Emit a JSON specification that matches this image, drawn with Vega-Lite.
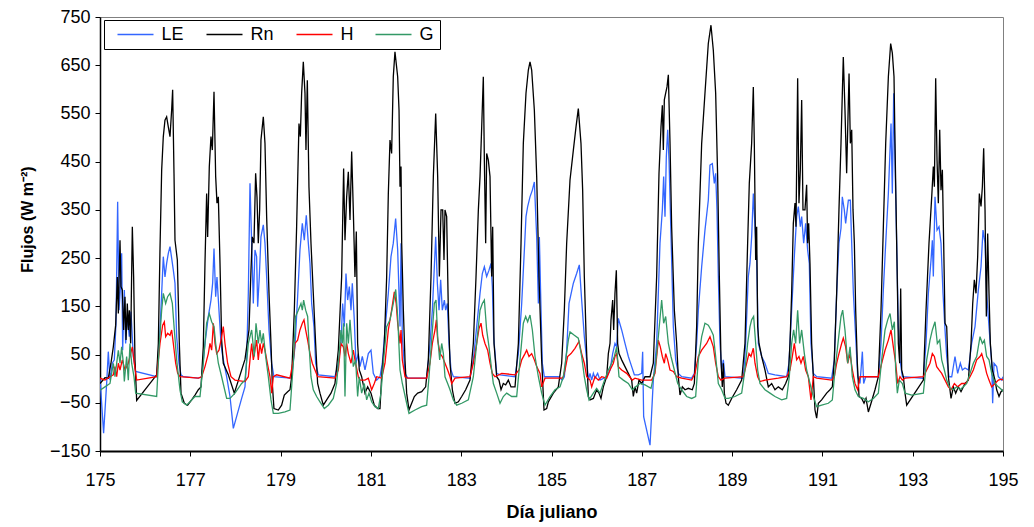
{
"$schema": "https://vega.github.io/schema/vega-lite/v6.json",
"width": 903, "height": 434,
"autosize": {"type": "none"},
"padding": {"left": 100, "top": 17, "right": 31, "bottom": 76},
"config": {"font": "Liberation Sans", "view": {"stroke": "#808080", "strokeWidth": 1}},
"datasets": {
"Rn": [[175.0,-10],[175.11,2],[175.184,1],[175.243,32],[175.295,66],[175.347,111],[175.384,211],[175.406,135],[175.443,287],[175.465,191],[175.494,184],[175.524,101],[175.553,170],[175.576,80],[175.605,156],[175.627,101],[175.649,142],[175.679,73],[175.716,315],[175.745,211],[175.775,39],[175.812,-45],[176.255,8],[176.292,73],[176.329,270],[176.366,433],[176.402,502],[176.439,536],[176.476,543],[176.513,522],[176.55,502],[176.587,557],[176.609,599],[176.639,426],[176.661,287],[176.713,246],[176.757,73],[176.794,-30],[176.868,-51],[176.941,-55],[177.03,-44],[177.104,-34],[177.178,-23],[177.237,-17],[177.288,66],[177.325,239],[177.362,384],[177.384,294],[177.421,440],[177.458,502],[177.488,474],[177.525,595],[177.562,419],[177.591,364],[177.621,377],[177.658,239],[177.694,80],[177.731,32],[177.842,8],[177.975,-30],[178.211,40],[178.3,101],[178.344,225],[178.373,294],[178.41,281],[178.447,426],[178.477,377],[178.506,281],[178.536,350],[178.565,495],[178.617,543],[178.654,488],[178.691,336],[178.743,177],[178.787,73],[178.816,-10],[178.853,-62],[178.949,-65],[179.023,-55],[179.082,-34],[179.156,-27],[179.208,-23],[179.245,4],[179.304,142],[179.355,315],[179.407,529],[179.437,502],[179.466,592],[179.503,657],[179.54,592],[179.562,474],[179.592,619],[179.628,398],[179.673,281],[179.724,177],[179.776,73],[179.82,-10],[179.872,-30],[179.946,-55],[180.02,-44],[180.116,-30],[180.204,-10],[180.278,59],[180.352,211],[180.396,436],[180.426,287],[180.463,377],[180.5,429],[180.537,329],[180.574,471],[180.61,350],[180.647,211],[180.677,305],[180.706,73],[180.743,18],[180.795,4],[180.869,-30],[180.928,-17],[181.002,-30],[181.075,-55],[181.149,-62],[181.201,-62],[181.238,4],[181.297,73],[181.349,211],[181.386,384],[181.423,495],[181.459,467],[181.496,626],[181.533,678],[181.593,626],[181.623,557],[181.645,398],[181.667,440],[181.682,281],[181.719,142],[181.755,39],[181.792,-30],[181.844,-65],[181.903,-51],[181.962,-37],[182.036,-30],[182.125,-27],[182.213,-17],[182.272,39],[182.331,211],[182.383,419],[182.435,550],[182.479,419],[182.516,212],[182.553,350],[182.59,350],[182.619,246],[182.641,350],[182.678,336],[182.715,142],[182.752,32],[182.804,-23],[182.863,-51],[182.937,-48],[183.011,-37],[183.099,-23],[183.195,-3],[183.269,73],[183.328,211],[183.38,350],[183.417,419],[183.454,522],[183.49,626],[183.513,453],[183.542,281],[183.564,467],[183.601,453],[183.638,419],[183.675,212],[183.697,315],[183.727,73],[183.786,4],[183.837,-3],[183.882,-23],[183.933,-10],[183.985,-13],[184.044,-3],[184.103,-17],[184.192,-17],[184.266,73],[184.325,281],[184.376,488],[184.435,592],[184.487,640],[184.524,657],[184.561,640],[184.62,557],[184.672,419],[184.723,212],[184.782,39],[184.834,-65],[184.893,-62],[184.93,-48],[185.041,-30],[185.151,-17],[185.225,32],[185.284,142],[185.336,281],[185.41,412],[185.484,474],[185.543,522],[185.594,560],[185.653,488],[185.69,391],[185.727,212],[185.771,73],[185.816,-37],[185.853,-44],[185.927,-41],[186.0,-23],[186.052,-30],[186.096,-41],[186.148,-17],[186.222,4],[186.259,52],[186.296,73],[186.318,122],[186.355,163],[186.377,101],[186.406,177],[186.436,225],[186.465,73],[186.495,52],[186.554,39],[186.628,25],[186.702,11],[186.776,-3],[186.812,-37],[186.849,-17],[186.886,-30],[186.938,-3],[186.997,-10],[187.071,4],[187.182,4],[187.255,32],[187.329,212],[187.381,426],[187.425,522],[187.455,567],[187.477,474],[187.499,578],[187.529,592],[187.558,605],[187.588,630],[187.625,488],[187.661,315],[187.721,142],[187.772,73],[187.809,4],[187.846,-34],[187.898,-17],[187.957,-23],[188.031,-20],[188.119,-23],[188.164,-10],[188.215,108],[188.252,281],[188.326,488],[188.399,592],[188.473,695],[188.532,733],[188.584,681],[188.636,592],[188.68,419],[188.717,212],[188.754,39],[188.783,-17],[188.806,32],[188.828,-30],[188.865,-51],[188.916,-55],[188.99,-41],[189.101,-23],[189.212,-3],[189.285,73],[189.344,281],[189.381,405],[189.433,488],[189.47,605],[189.492,488],[189.522,246],[189.544,315],[189.566,108],[189.596,73],[189.655,46],[189.728,18],[189.802,-17],[189.876,-10],[189.95,-23],[190.024,-17],[190.112,-23],[190.186,-10],[190.245,4],[190.282,73],[190.319,177],[190.356,322],[190.393,364],[190.415,315],[190.452,623],[190.481,364],[190.511,433],[190.541,578],[190.57,350],[190.614,350],[190.651,402],[190.673,281],[190.696,322],[190.725,239],[190.762,73],[190.799,4],[190.836,-65],[190.873,-82],[190.91,-51],[190.983,-44],[191.094,-30],[191.168,-23],[191.22,-17],[191.264,39],[191.316,177],[191.367,350],[191.412,488],[191.463,667],[191.5,557],[191.537,426],[191.59,633],[191.619,488],[191.649,516],[191.678,350],[191.708,281],[191.737,142],[191.774,32],[191.811,-37],[191.87,-41],[191.922,-51],[191.966,-41],[192.018,-69],[192.077,-51],[192.165,-23],[192.239,4],[192.298,142],[192.35,315],[192.402,488],[192.461,626],[192.512,695],[192.549,675],[192.586,626],[192.608,488],[192.645,281],[192.682,73],[192.712,32],[192.734,187],[192.756,18],[192.793,4],[192.83,-30],[192.867,-55],[193.236,-3],[193.295,142],[193.361,281],[193.421,377],[193.457,440],[193.48,398],[193.509,623],[193.539,453],[193.568,364],[193.598,516],[193.627,391],[193.657,433],[193.686,281],[193.716,115],[193.753,108],[193.79,4],[193.849,-41],[193.901,-17],[193.952,-30],[194.011,-17],[194.07,-27],[194.159,-10],[194.233,-3],[194.292,73],[194.329,156],[194.365,205],[194.402,177],[194.439,253],[194.476,384],[194.513,357],[194.543,398],[194.572,478],[194.602,350],[194.631,129],[194.661,301],[194.69,177],[194.72,73],[194.764,18],[194.823,-3],[194.86,-23],[194.912,-37],[194.956,-27],[195.0,-23]],
"LE": [[175.0,1],[175.08,-113],[175.147,-10],[175.184,56],[175.221,-3],[175.273,32],[175.317,39],[175.354,115],[175.391,367],[175.421,142],[175.458,198],[175.48,260],[175.502,59],[175.539,184],[175.568,73],[175.605,129],[175.649,87],[175.686,139],[175.738,46],[175.79,15],[176.255,4],[176.329,101],[176.402,253],[176.439,211],[176.476,239],[176.513,260],[176.55,274],[176.587,250],[176.624,225],[176.661,198],[176.698,87],[176.749,32],[176.794,8],[176.845,4],[177.178,1],[177.252,4],[177.325,73],[177.399,129],[177.458,163],[177.495,198],[177.525,270],[177.562,170],[177.591,211],[177.635,142],[177.68,73],[177.717,46],[177.805,4],[177.879,-37],[177.953,-103],[178.137,-41],[178.211,-17],[178.248,40],[178.285,177],[178.322,405],[178.359,281],[178.396,156],[178.432,267],[178.469,253],[178.492,149],[178.528,211],[178.565,294],[178.617,319],[178.654,281],[178.691,211],[178.743,101],[178.802,32],[178.853,4],[179.208,1],[179.245,4],[179.318,66],[179.377,170],[179.429,267],[179.481,322],[179.525,287],[179.569,339],[179.614,281],[179.651,239],[179.688,156],[179.739,108],[179.776,32],[179.835,8],[180.204,4],[180.278,32],[180.337,73],[180.374,156],[180.411,108],[180.448,218],[180.485,163],[180.522,191],[180.559,142],[180.588,198],[180.632,122],[180.669,32],[180.721,52],[180.758,25],[180.81,46],[180.869,18],[180.943,52],[181.002,59],[181.053,11],[181.127,-3],[181.201,4],[181.253,32],[181.312,101],[181.386,177],[181.445,253],[181.496,281],[181.548,332],[181.593,267],[181.645,108],[181.667,281],[181.696,87],[181.755,11],[181.815,1],[182.235,1],[182.309,73],[182.361,142],[182.405,232],[182.435,294],[182.472,198],[182.509,142],[182.545,205],[182.582,142],[182.627,163],[182.656,142],[182.693,156],[182.73,73],[182.774,18],[182.826,4],[183.195,1],[183.269,39],[183.343,108],[183.417,177],[183.468,218],[183.513,232],[183.564,212],[183.616,225],[183.66,239],[183.69,191],[183.719,87],[183.786,11],[183.86,8],[184.192,4],[184.266,52],[184.34,156],[184.399,267],[184.435,336],[184.472,357],[184.524,377],[184.576,391],[184.62,408],[184.672,294],[184.709,156],[184.731,294],[184.768,142],[184.797,32],[184.841,4],[185.151,4],[185.24,-3],[185.284,4],[185.336,59],[185.388,156],[185.484,198],[185.557,218],[185.616,236],[185.668,163],[185.727,87],[185.779,39],[185.816,-3],[185.853,11],[185.89,-3],[185.927,11],[185.963,1],[186.022,11],[186.074,-3],[186.222,4],[186.296,18],[186.355,52],[186.406,73],[186.443,66],[186.48,125],[186.554,101],[186.628,73],[186.702,46],[186.776,25],[186.835,8],[186.923,8],[186.997,11],[187.019,56],[187.041,-79],[187.182,-138],[187.255,-3],[187.329,73],[187.403,281],[187.455,350],[187.484,419],[187.514,336],[187.543,460],[187.573,516],[187.603,453],[187.632,350],[187.661,246],[187.698,108],[187.75,39],[187.809,11],[187.883,4],[188.104,1],[188.164,11],[188.215,73],[188.252,142],[188.326,232],[188.399,308],[188.473,370],[188.51,443],[188.562,446],[188.606,405],[188.636,426],[188.665,350],[188.695,212],[188.732,73],[188.769,18],[188.806,39],[188.843,4],[189.249,1],[189.3,73],[189.359,212],[189.396,239],[189.433,294],[189.47,384],[189.507,315],[189.544,246],[189.581,73],[189.655,46],[189.728,32],[189.802,11],[189.95,8],[190.208,4],[190.26,32],[190.319,142],[190.378,253],[190.43,336],[190.467,357],[190.511,315],[190.541,336],[190.585,281],[190.629,322],[190.673,267],[190.71,239],[190.747,73],[190.799,11],[190.873,4],[191.205,1],[191.264,39],[191.316,177],[191.367,281],[191.412,312],[191.441,377],[191.485,350],[191.515,322],[191.575,370],[191.619,370],[191.649,281],[191.686,177],[191.737,87],[191.782,4],[191.833,-10],[191.885,56],[191.914,-10],[191.959,4],[192.239,4],[192.298,73],[192.35,184],[192.402,281],[192.461,384],[192.52,529],[192.549,384],[192.579,592],[192.608,453],[192.645,281],[192.682,108],[192.719,39],[192.771,4],[193.236,1],[193.295,73],[193.347,177],[193.406,246],[193.435,287],[193.457,212],[193.494,377],[193.539,308],[193.583,315],[193.627,281],[193.671,177],[193.716,101],[193.753,46],[193.804,4],[193.864,4],[193.937,46],[193.996,11],[194.055,32],[194.1,18],[194.159,22],[194.233,18],[194.306,73],[194.38,108],[194.454,184],[194.513,232],[194.557,308],[194.602,281],[194.638,177],[194.69,108],[194.749,32],[194.771,-51],[194.801,32],[194.86,25],[194.897,4],[194.971,-3],[195.0,4]],
"H": [[175.0,1],[175.11,-3],[175.221,4],[175.295,8],[175.332,25],[175.369,4],[175.406,32],[175.443,18],[175.494,39],[175.553,18],[175.627,32],[175.679,52],[175.716,66],[175.76,32],[175.812,-3],[176.255,4],[176.329,73],[176.388,111],[176.425,118],[176.454,87],[176.498,94],[176.55,90],[176.587,101],[176.624,73],[176.676,32],[176.72,11],[176.772,4],[177.178,1],[177.252,4],[177.325,25],[177.399,52],[177.436,73],[177.473,59],[177.51,115],[177.547,73],[177.584,52],[177.635,59],[177.68,80],[177.731,108],[177.768,73],[177.827,32],[177.901,4],[177.99,-3],[178.211,-6],[178.285,4],[178.322,39],[178.359,73],[178.396,39],[178.432,59],[178.469,80],[178.506,39],[178.543,73],[178.58,52],[178.617,73],[178.654,59],[178.706,32],[178.765,4],[178.802,-30],[178.839,4],[178.912,8],[179.208,1],[179.282,39],[179.318,73],[179.377,80],[179.429,101],[179.481,115],[179.518,122],[179.555,101],[179.599,80],[179.651,52],[179.702,32],[179.761,18],[179.82,4],[180.204,1],[180.278,18],[180.337,73],[180.389,66],[180.426,46],[180.463,73],[180.5,52],[180.559,32],[180.61,59],[180.647,39],[180.721,4],[180.758,-3],[180.869,-3],[180.943,1],[181.016,-23],[181.075,-10],[181.127,4],[181.238,1],[181.312,32],[181.386,101],[181.459,142],[181.519,180],[181.56,156],[181.593,115],[181.645,73],[181.667,101],[181.696,39],[181.755,4],[181.815,1],[182.235,1],[182.309,32],[182.361,73],[182.42,101],[182.45,122],[182.479,80],[182.531,52],[182.582,46],[182.641,32],[182.7,18],[182.752,4],[182.789,-10],[182.863,1],[183.195,4],[183.269,32],[183.343,73],[183.395,104],[183.439,115],[183.476,90],[183.527,73],[183.586,59],[183.638,32],[183.69,11],[183.749,4],[183.897,11],[184.192,8],[184.281,18],[184.34,39],[184.413,52],[184.45,59],[184.502,46],[184.561,52],[184.62,39],[184.672,25],[184.746,11],[184.782,-17],[184.856,1],[185.225,1],[185.262,4],[185.299,18],[185.358,46],[185.432,52],[185.52,63],[185.609,77],[185.668,52],[185.727,32],[185.779,4],[185.853,-3],[185.89,-17],[185.963,4],[186.037,-3],[186.111,4],[186.222,1],[186.296,18],[186.37,32],[186.406,46],[186.443,52],[186.48,25],[186.554,18],[186.665,11],[186.79,-3],[186.849,1],[186.997,-3],[187.218,-3],[187.292,11],[187.366,80],[187.41,66],[187.455,46],[187.499,32],[187.529,52],[187.573,39],[187.625,18],[187.698,15],[187.772,4],[187.883,1],[188.104,-3],[188.178,11],[188.252,46],[188.326,59],[188.436,73],[188.51,87],[188.584,66],[188.636,32],[188.695,4],[188.754,-3],[188.843,1],[189.249,4],[189.322,32],[189.374,52],[189.418,46],[189.47,63],[189.507,32],[189.566,4],[189.618,-6],[189.728,-3],[190.024,1],[190.208,4],[190.282,18],[190.334,46],[190.378,73],[190.43,39],[190.481,46],[190.526,32],[190.577,46],[190.629,18],[190.688,4],[190.747,-44],[190.799,4],[190.873,1],[191.205,-3],[191.264,4],[191.316,32],[191.367,52],[191.426,73],[191.463,84],[191.515,66],[191.56,32],[191.612,52],[191.663,18],[191.722,-10],[191.782,-23],[191.833,4],[192.239,4],[192.313,32],[192.387,59],[192.461,80],[192.52,101],[192.571,66],[192.623,32],[192.667,-10],[192.719,4],[192.771,-3],[192.83,1],[193.236,4],[193.31,18],[193.383,32],[193.435,52],[193.48,46],[193.531,25],[193.583,18],[193.642,11],[193.716,-3],[193.79,-17],[193.849,-23],[193.923,-10],[193.996,-17],[194.085,-10],[194.174,-10],[194.27,4],[194.343,18],[194.417,39],[194.491,46],[194.528,52],[194.587,32],[194.638,11],[194.69,-3],[194.749,-17],[194.823,-10],[194.897,-3],[194.971,-1],[195.0,-3]],
"G": [[175.0,-24],[175.11,-17],[175.221,-10],[175.295,32],[175.332,4],[175.369,32],[175.406,59],[175.443,32],[175.48,66],[175.517,32],[175.539,-6],[175.59,46],[175.627,-3],[175.664,73],[175.701,32],[175.753,4],[175.79,-30],[176.255,-37],[176.314,73],[176.366,142],[176.402,177],[176.454,156],[176.498,170],[176.55,177],[176.602,156],[176.646,101],[176.698,39],[176.772,-24],[176.823,-48],[176.919,-55],[177.104,-37],[177.215,-37],[177.288,32],[177.362,115],[177.421,135],[177.473,118],[177.525,108],[177.562,73],[177.621,32],[177.694,4],[177.805,-41],[177.879,-41],[177.99,-30],[178.137,-10],[178.211,-3],[178.285,73],[178.359,101],[178.418,46],[178.455,115],[178.506,73],[178.543,101],[178.58,73],[178.617,94],[178.669,46],[178.728,4],[178.787,-44],[178.839,-72],[178.949,-72],[179.097,-69],[179.208,-65],[179.282,32],[179.333,129],[179.392,142],[179.451,156],[179.481,142],[179.51,163],[179.555,142],[179.599,129],[179.628,73],[179.673,4],[179.724,-23],[179.798,-37],[179.872,-48],[179.968,-62],[180.057,-55],[180.167,-41],[180.241,-10],[180.293,46],[180.337,101],[180.367,73],[180.396,115],[180.426,-37],[180.463,115],[180.5,73],[180.537,122],[180.574,73],[180.61,25],[180.662,39],[180.706,-37],[180.743,4],[180.795,-30],[180.854,-10],[180.906,-44],[180.957,-30],[181.016,-48],[181.09,-58],[181.164,-62],[181.223,-30],[181.275,32],[181.349,108],[181.423,122],[181.496,156],[181.55,185],[181.593,129],[181.645,18],[181.696,-10],[181.792,-51],[181.844,-72],[181.977,-65],[182.125,-58],[182.235,-55],[182.287,4],[182.346,80],[182.405,156],[182.442,163],[182.479,87],[182.523,39],[182.568,73],[182.605,52],[182.641,4],[182.7,-10],[182.752,-23],[182.826,-44],[182.9,-55],[183.011,-51],[183.158,-44],[183.269,4],[183.343,73],[183.417,142],[183.468,156],[183.513,163],[183.564,101],[183.616,66],[183.675,18],[183.712,-10],[183.786,-30],[183.86,-51],[183.933,-37],[184.007,-30],[184.118,-37],[184.229,-37],[184.303,39],[184.376,115],[184.428,129],[184.472,118],[184.524,132],[184.576,101],[184.635,46],[184.709,4],[184.782,-30],[184.856,-55],[184.967,-37],[185.077,-23],[185.188,-17],[185.262,4],[185.314,39],[185.373,80],[185.41,97],[185.506,90],[185.594,84],[185.668,46],[185.727,4],[185.779,-23],[185.831,-44],[185.927,-30],[186.0,-20],[186.074,-30],[186.148,-10],[186.259,18],[186.333,32],[186.392,46],[186.443,66],[186.495,4],[186.591,-3],[186.702,-10],[186.79,-23],[186.864,-17],[186.96,-10],[187.071,-13],[187.204,-20],[187.292,18],[187.366,87],[187.44,163],[187.484,115],[187.529,129],[187.588,73],[187.647,46],[187.721,18],[187.795,-10],[187.883,-23],[187.994,-37],[188.104,-41],[188.193,-37],[188.252,39],[188.326,87],[188.399,115],[188.473,111],[188.532,101],[188.584,90],[188.636,46],[188.695,-10],[188.769,-23],[188.843,-41],[188.916,-41],[189.064,-37],[189.212,-30],[189.285,18],[189.344,73],[189.396,108],[189.433,122],[189.477,129],[189.522,73],[189.566,18],[189.618,-10],[189.728,-23],[189.839,-30],[189.95,-37],[190.098,-44],[190.208,-41],[190.267,4],[190.319,73],[190.363,101],[190.408,73],[190.452,142],[190.496,73],[190.541,101],[190.6,52],[190.651,18],[190.725,-10],[190.799,-37],[190.873,-58],[190.983,-55],[191.131,-51],[191.22,-44],[191.279,18],[191.353,80],[191.412,129],[191.449,142],[191.5,101],[191.56,32],[191.612,66],[191.663,4],[191.722,-23],[191.796,-37],[191.907,-41],[192.018,-48],[192.129,-41],[192.239,-30],[192.313,39],[192.387,101],[192.446,122],[192.498,135],[192.549,101],[192.594,118],[192.623,18],[192.66,-30],[192.704,-3],[192.771,-10],[192.83,-30],[192.978,-34],[193.236,-30],[193.31,39],[193.383,80],[193.435,101],[193.494,118],[193.546,73],[193.598,80],[193.642,39],[193.701,18],[193.753,-3],[193.827,-20],[193.901,-23],[193.974,-17],[194.048,-23],[194.122,-17],[194.196,-10],[194.27,11],[194.343,32],[194.417,46],[194.491,87],[194.543,73],[194.587,80],[194.638,46],[194.69,39],[194.749,11],[194.823,-10],[194.897,-17],[194.971,-23],[195.0,-27]]
},
"layer": [
{"data": {"name": "LE"}, "mark": {"type": "line", "strokeWidth": 1.3, "clip": true}, "encoding": {"x": {"field": "0", "type": "quantitative"}, "y": {"field": "1", "type": "quantitative"}, "color": {"datum": "LE"}}},
{"data": {"name": "Rn"}, "mark": {"type": "line", "strokeWidth": 1.3, "clip": true}, "encoding": {"x": {"field": "0", "type": "quantitative"}, "y": {"field": "1", "type": "quantitative"}, "color": {"datum": "Rn"}}},
{"data": {"name": "H"}, "mark": {"type": "line", "strokeWidth": 1.3, "clip": true}, "encoding": {"x": {"field": "0", "type": "quantitative"}, "y": {"field": "1", "type": "quantitative"}, "color": {"datum": "H"}}},
{"data": {"name": "G"}, "mark": {"type": "line", "strokeWidth": 1.3, "clip": true}, "encoding": {"x": {"field": "0", "type": "quantitative", "scale": {"domain": [175, 195], "nice": false, "zero": false}, "axis": {"values": [175,177,179,181,183,185,187,189,191,193,195], "title": "Día juliano", "grid": false, "domainColor": "black", "domainWidth": 2, "tickColor": "black", "tickSize": 5, "labelFontSize": 18, "labelColor": "black", "labelPadding": 15, "labelFlush": false, "labelOverlap": false, "titleFontSize": 18, "titleFontWeight": "bold", "titleColor": "black", "titlePadding": 14}}, "y": {"field": "1", "type": "quantitative", "scale": {"domain": [-150, 750], "nice": false, "zero": false}, "axis": {"values": [-150,-50,50,150,250,350,450,550,650,750], "title": "Flujos (W m⁻²)", "grid": false, "domainColor": "black", "domainWidth": 1.5, "tickColor": "black", "tickSize": 5, "labelFontSize": 18, "labelColor": "black", "labelPadding": 5, "labelFlush": false, "labelOverlap": false, "titleFontSize": 16, "titleFontWeight": "bold", "titleColor": "black", "titlePadding": 14, "titleY": 202}}, "color": {"datum": "G", "type": "nominal", "scale": {"domain": ["LE", "Rn", "H", "G"], "range": ["#3366FF", "#000000", "#FF0000", "#339966"]}, "legend": {"title": null, "orient": "none", "legendX": 4, "legendY": 3, "direction": "horizontal", "symbolType": "stroke", "symbolSize": 1296, "symbolStrokeWidth": 1.5, "symbolOffset": 7, "clipHeight": 18, "labelFontSize": 18, "labelColor": "black", "labelOffset": 7, "columnPadding": 14, "padding": 5.5, "strokeColor": "black", "fillColor": "white"}}}}
]
}
